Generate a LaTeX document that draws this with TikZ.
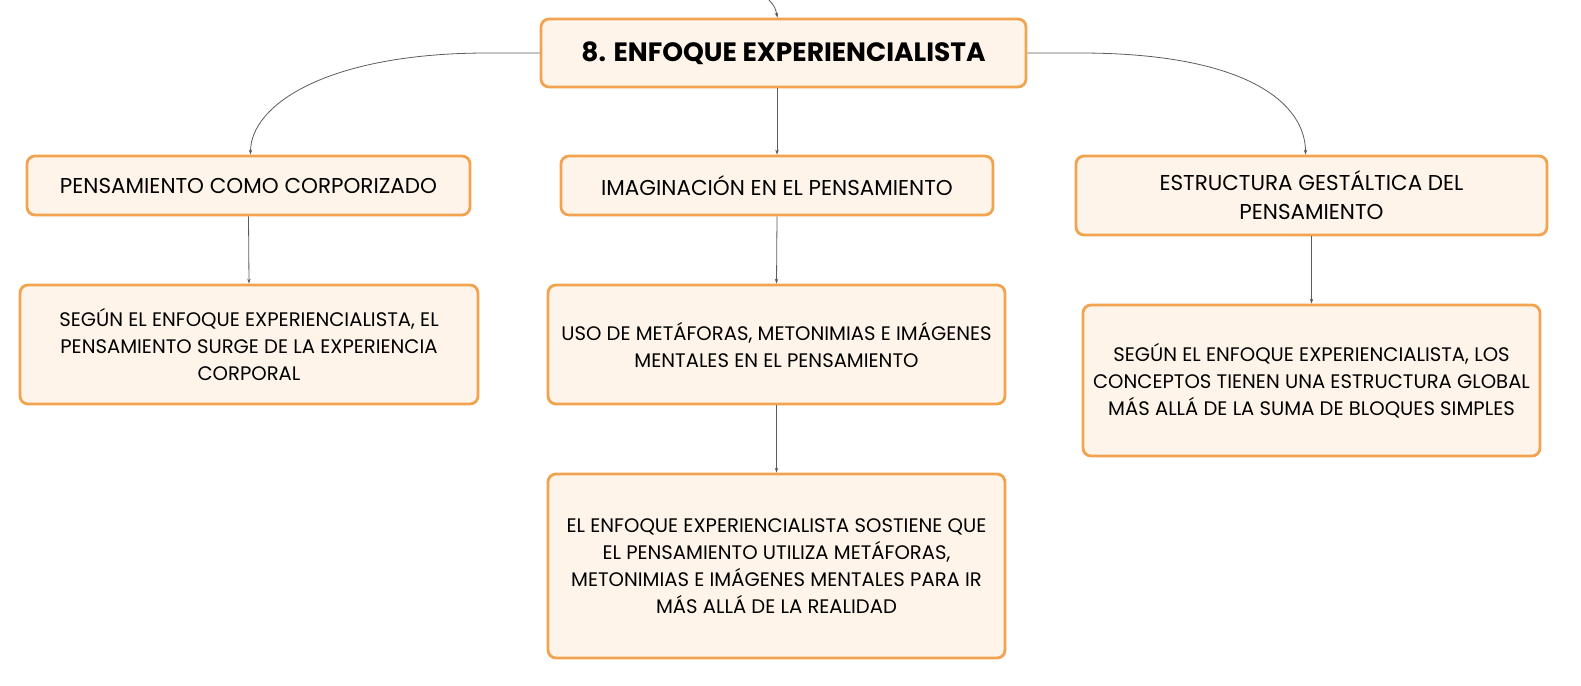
\documentclass[tikz,border=0pt]{standalone}
\usepackage{fontspec}
\setmainfont{Poppins}
\usetikzlibrary{arrows.meta}
\definecolor{boxfill}{HTML}{FEF4E9}
\definecolor{boxline}{HTML}{F1A34F}
\definecolor{linkgray}{HTML}{5C5C5C}

\begin{document}
\begin{tikzpicture}[x=1pt,y=-1pt,
    topic/.style={draw=boxline,fill=boxfill,line width=2.8pt,rounded corners=8pt,align=center,inner sep=0pt,font=\fontsize{21.5}{29}\selectfont},
    detail/.style={topic,font=\fontsize{19.6}{27}\selectfont},
    link/.style={draw=linkgray,line width=0.8pt,-{Stealth[length=5pt,width=3.5pt]}}]
    \useasboundingbox (0,0) rectangle (1581,685);

    \node[topic,minimum width=485pt,minimum height=68pt,font=\fontsize{26.5}{29}\selectfont\bfseries](title) at (783.5,53){8. ENFOQUE EXPERIENCIALISTA};
    \node[topic,minimum width=443pt,minimum height=59pt](corp) at (248.5,185.5){PENSAMIENTO COMO CORPORIZADO};
    \node[topic,minimum width=432pt,minimum height=59pt](imag) at (777,185.5){IMAGINACIÓN EN EL PENSAMIENTO};
    \node[topic,minimum width=471pt,minimum height=79pt](gest) at (1311.5,195.5){ESTRUCTURA GESTÁLTICA DEL\\PENSAMIENTO};
    \node[detail,minimum width=458pt,minimum height=119pt](corpdet) at (249,344.5){SEGÚN EL ENFOQUE EXPERIENCIALISTA, EL\\PENSAMIENTO SURGE DE LA EXPERIENCIA\\CORPORAL};
    \node[detail,minimum width=457pt,minimum height=119pt](imagdet) at (776.5,344.5){USO DE METÁFORAS, METONIMIAS E IMÁGENES\\MENTALES EN EL PENSAMIENTO};
    \node[detail,minimum width=457pt,minimum height=184pt](imagmeta) at (776.5,566){EL ENFOQUE EXPERIENCIALISTA SOSTIENE QUE\\EL PENSAMIENTO UTILIZA METÁFORAS,\\METONIMIAS E IMÁGENES MENTALES PARA IR\\MÁS ALLÁ DE LA REALIDAD};
    \node[detail,minimum width=457pt,minimum height=151pt](gestdet) at (1311.5,380.5){SEGÚN EL ENFOQUE EXPERIENCIALISTA, LOS\\CONCEPTOS TIENEN UNA ESTRUCTURA GLOBAL\\MÁS ALLÁ DE LA SUMA DE BLOQUES SIMPLES};

    \coordinate(parent) at (769,0);
    \draw[link](parent) .. controls (775,7) .. ([xshift=-6pt]title.north);
    \draw[link](title.west) -- ++(-52,0) .. controls +(-160,0) and +(0,-50) .. ([xshift=2pt]corp.north);
    \draw[link](title.east) -- ++(52,0) .. controls +(170,0) and +(0,-50) .. ([xshift=-6pt]gest.north);
    \draw[link](imag.north |- title.south) -- (imag.north);
    \draw[link](corp.south) -- (corpdet.north);
    \draw[link](imag.south) -- (imagdet.north);
    \draw[link](imagdet.south) -- (imagmeta.north);
    \draw[link](gest.south) -- (gestdet.north);
\end{tikzpicture}
\end{document}
